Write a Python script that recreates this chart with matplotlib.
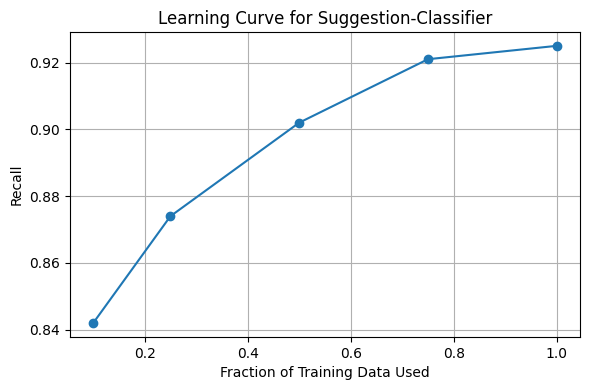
import matplotlib
matplotlib.use("Agg")
import matplotlib.pyplot as plt

# learning curve values
fractions = [0.1, 0.25, 0.5, 0.75, 1.0]
recall = [0.842, 0.874, 0.902, 0.921, 0.925]

fig, ax = plt.subplots(figsize=(5.9, 3.9), dpi=100)
ax.plot(fractions, recall, marker='o')
ax.set_title('Learning Curve for Suggestion-Classifier')
ax.set_xlabel('Fraction of Training Data Used')
ax.set_ylabel('Recall')
ax.grid(True)
fig.subplots_adjust(left=0.1186, right=0.983, top=0.918, bottom=0.136)
fig.savefig('out.png')
